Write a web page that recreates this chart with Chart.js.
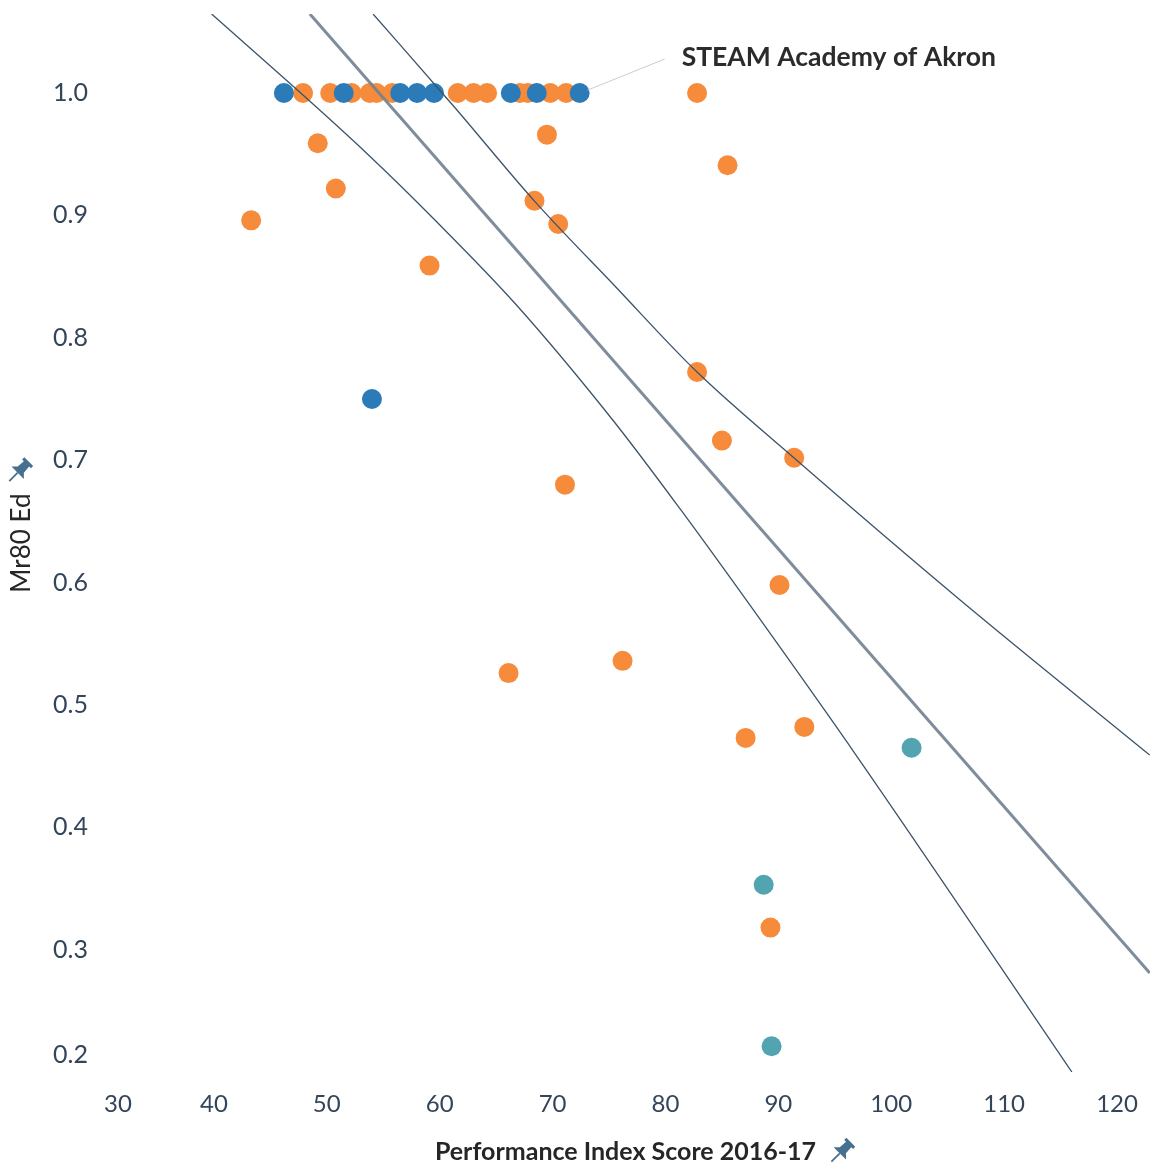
<!DOCTYPE html>
<html>
<head>
<meta charset="utf-8">
<script src="https://cdn.jsdelivr.net/npm/chart.js@4.4.1/dist/chart.umd.min.js"></script>
<style>
  html, body { margin: 0; padding: 0; background: #fff; }
  #wrap { width: 1150px; height: 1174px; position: relative; }
</style>
</head>
<body>
<div id="wrap"><canvas id="chart"></canvas></div>
<script>
// --- data ---
const xTicks = [30, 40, 50, 60, 70, 80, 90, 100, 110, 120];
const yTicks = [0.2, 0.3, 0.4, 0.5, 0.6, 0.7, 0.8, 0.9, 1.0];

const blueX = [46.2, 51.5, 56.5, 58.0, 59.5, 66.3, 68.6, 72.4, 54.0];
const blueY = [1.0, 1.0, 1.0, 1.0, 1.0, 1.0, 1.0, 1.0, 0.75];

const orangeX = [47.9, 50.3, 52.2, 53.8, 54.4, 55.8, 61.6, 63.0, 64.2, 67.1, 67.8, 69.8, 71.2, 82.8,
                 49.2, 50.8, 43.3, 59.1, 69.5, 68.4, 70.5, 85.5, 82.8, 85.0, 91.4, 71.1, 90.1,
                 66.1, 76.2, 87.1, 92.3, 89.3];
const orangeY = [1.0, 1.0, 1.0, 1.0, 1.0, 1.0, 1.0, 1.0, 1.0, 1.0, 1.0, 1.0, 1.0, 1.0,
                 0.959, 0.922, 0.896, 0.859, 0.966, 0.912, 0.893, 0.941, 0.772, 0.716, 0.702, 0.680, 0.598,
                 0.526, 0.536, 0.473, 0.482, 0.318];

const tealX = [101.8, 88.7, 89.4];
const tealY = [0.465, 0.353, 0.221];

// trend line and its confidence band
const trendX = [48.5, 122.9];
const trendY = [1.0646, 0.2809];
const upperX = [54.1, 61.3, 68.4, 75.6, 82.8, 91.4, 106.1, 122.9];
const upperY = [1.0646, 0.9886, 0.9117, 0.8415, 0.772, 0.7017, 0.5857, 0.459];
const lowerX = [39.8, 46.7, 53.6, 59.4, 66.8, 75.4, 81.3, 88.8, 97.0, 116.0];
const lowerY = [1.0646, 1.0082, 0.9502, 0.8979, 0.8268, 0.732, 0.6601, 0.5645, 0.4574, 0.2];

const annotationText = 'STEAM Academy of Akron';
const annotationIndex = 7; // in blue series

const toPoints = (xs, ys) => xs.map((x, i) => ({ x: x, y: ys[i] }));

const FONT = 'Lato, "Open Sans", sans-serif';
const TICK_COLOR = '#34455a';

function drawPin(ctx, cx, cy, s) {
  ctx.save();
  ctx.translate(cx, cy);
  ctx.rotate(Math.PI / 4);
  ctx.scale(s, s);
  ctx.fillStyle = '#46708f';
  ctx.strokeStyle = '#46708f';
  ctx.beginPath();
  ctx.moveTo(-5, -11); ctx.lineTo(5, -11); ctx.lineTo(5, -8.5);
  ctx.lineTo(3, -8.5); ctx.lineTo(3.5, -2); ctx.lineTo(7, 1.5);
  ctx.lineTo(-7, 1.5); ctx.lineTo(-3.5, -2); ctx.lineTo(-3, -8.5);
  ctx.lineTo(-5, -8.5); ctx.closePath();
  ctx.fill();
  ctx.lineWidth = 1.4;
  ctx.beginPath(); ctx.moveTo(0, 1.5); ctx.lineTo(0, 11); ctx.stroke();
  ctx.restore();
}

const extras = {
  id: 'extras',
  beforeDraw(chart) {
    // keep edge tick labels inside the pane, as the original does
    const xi = chart.scales.x.getLabelItems();
    if (xi.length && !xi[0]._moved) { xi[0].options.translation[0] += 17; xi[0]._moved = true; }
    const yi = chart.scales.y.getLabelItems();
    if (yi.length && !yi[0]._moved) { yi[0].options.translation[1] -= 17; yi[0]._moved = true; }
  },
  afterDraw(chart) {
    const ctx = chart.ctx;
    const xs = chart.scales.x, ys = chart.scales.y;
    const area = chart.chartArea;

    // annotation for one school
    const px = xs.getPixelForValue(blueX[annotationIndex]);
    const py = ys.getPixelForValue(blueY[annotationIndex]);
    ctx.save();
    ctx.strokeStyle = '#c9cdd1';
    ctx.lineWidth = 1;
    ctx.beginPath();
    ctx.moveTo(px + 8, py - 3);
    ctx.lineTo(px + 85, py - 34);
    ctx.stroke();
    ctx.fillStyle = '#2b2b2b';
    ctx.font = 'bold 26.5px ' + FONT;
    ctx.textBaseline = 'middle';
    ctx.fillText(annotationText, px + 102, py - 36);

    // pin icons next to the axis titles
    ctx.font = 'bold 25px ' + FONT;
    const xw = ctx.measureText(xs.options.title.text).width;
    drawPin(ctx, (area.left + area.right) / 2 + xw / 2 + 25, 1152, 1.25);
    ctx.font = '26px ' + FONT;
    const yw = ctx.measureText(ys.options.title.text).width;
    drawPin(ctx, 19, (area.top + area.bottom) / 2 - yw / 2 - 22, 1.25);
    ctx.restore();
  }
};

const bandLine = (xs, ys, width, color) => ({
  type: 'line',
  data: toPoints(xs, ys),
  showLine: true,
  borderColor: color,
  borderWidth: width,
  pointRadius: 0,
  fill: false,
  cubicInterpolationMode: 'monotone'
});

const dots = (xs, ys, color) => ({
  data: toPoints(xs, ys),
  backgroundColor: color,
  borderWidth: 0,
  pointRadius: 10,
  pointHoverRadius: 10
});

new Chart(document.getElementById('chart'), {
  type: 'scatter',
  data: {
    datasets: [
      bandLine(trendX, trendY, 3, 'rgba(112,128,145,0.9)'),
      bandLine(upperX, upperY, 1.3, '#3d5368'),
      bandLine(lowerX, lowerY, 1.3, '#3d5368'),
      dots(blueX, blueY, '#2b7bb9'),
      dots(tealX, tealY, '#52a5b0'),
      dots(orangeX, orangeY, '#f68b3c')
    ]
  },
  options: {
    responsive: true,
    maintainAspectRatio: false,
    animation: false,
    layout: { autoPadding: false, padding: { top: 14, left: 0, right: 0, bottom: 0 } },
    plugins: { legend: { display: false }, tooltip: { enabled: false } },
    scales: {
      x: {
        type: 'linear',
        min: 30,
        max: 122.92,
        grid: { display: false, drawTicks: false },
        border: { display: false },
        afterBuildTicks: scale => { scale.ticks = xTicks.map(v => ({ value: v })); },
        afterFit: scale => { scale.height = 102; scale.paddingLeft = 0; scale.paddingRight = 0; },
        ticks: {
          padding: 18,
          color: TICK_COLOR,
          font: { family: FONT, size: 24 },
          maxRotation: 0,
          callback: v => String(v)
        },
        title: {
          display: true,
          text: 'Performance Index Score 2016-17',
          color: '#262626',
          font: { family: FONT, size: 25, weight: 'bold' },
          padding: { top: 0, bottom: 7 }
        }
      },
      y: {
        type: 'linear',
        min: 0.2,
        max: 1.0646,
        grid: { display: false, drawTicks: false },
        border: { display: false },
        afterBuildTicks: scale => { scale.ticks = yTicks.map(v => ({ value: v })); },
        afterFit: scale => { scale.width = 101; scale.paddingTop = 0; scale.paddingBottom = 0; },
        ticks: {
          padding: 13,
          color: TICK_COLOR,
          font: { family: FONT, size: 25 },
          callback: v => Number(v).toFixed(1)
        },
        title: {
          display: true,
          text: 'Mr80 Ed',
          color: '#262626',
          font: { family: FONT, size: 26 },
          padding: { top: 6, bottom: 0 }
        }
      }
    }
  },
  plugins: [extras]
});
</script>
</body>
</html>
